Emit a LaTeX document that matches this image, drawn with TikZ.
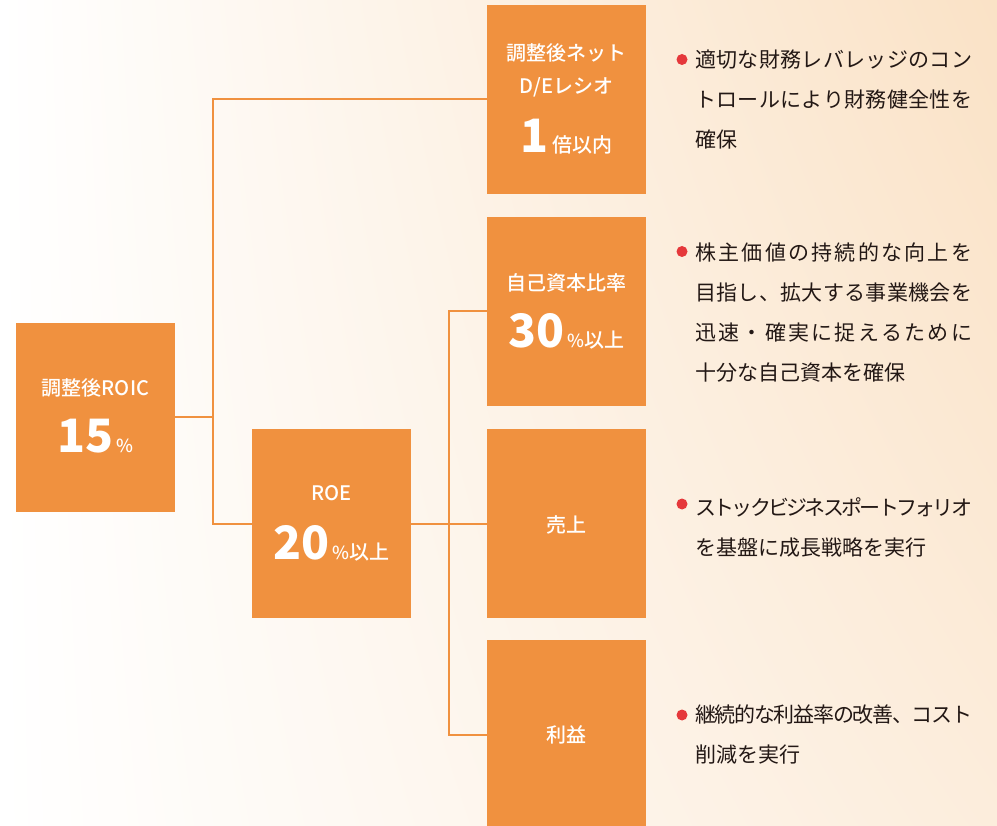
\documentclass[tikz,border=0pt]{standalone}
\usepackage{fontspec}
\usetikzlibrary{shadings}
\newfontfamily\jp{Noto Sans CJK JP}
\newfontfamily\jpm{Noto Sans CJK JP Medium}

\definecolor{goalorange}{HTML}{F0913F}
\definecolor{peachtop}{HTML}{FAE2C6}
\definecolor{peachlow}{HTML}{FCEDDC}
\definecolor{dotred}{HTML}{E5383B}
\definecolor{ink}{HTML}{231815}

% justified line of Japanese text
\newcommand\jline[1]{\hbox to 277pt{\jspread#1\relax}}
\def\jspread#1{#1\jnext}
\def\jnext#1{\ifx\relax#1\else\hskip 0pt plus 1fil minus 3pt\relax #1\expandafter\jnext\fi}
\newcommand\bignum[1]{{\jp\bfseries\fontsize{46}{46}\selectfont #1}}
\newcommand\pct{{\fontsize{18}{18}\selectfont\,\%}}

\begin{document}
\begin{tikzpicture}[x=1pt,y=-1pt,
  goal/.style={fill=goalorange,minimum width=159pt,minimum height=189pt,inner sep=0pt},
  head/.style={text=white,font=\jpm\fontsize{20}{24}\selectfont,inner sep=0pt},
  link/.style={draw=goalorange,line width=2pt},
  note/.style={text=ink,font=\jp\fontsize{21}{40}\selectfont,align=left,inner sep=0pt,anchor=north west},
  dot/.style={fill=dotred}]
  \useasboundingbox (0,0) rectangle (997,826);
  \shade[upper left=white,lower left=white,upper right=peachtop,lower right=peachlow] (0,0) rectangle (997,826);

  % connectors
  \draw[link] (175,417.5) -- ++(38,0) |- (487,99.5);
  \draw[link] (175,417.5) -- ++(38,0) |- (252,523.5);

  % boxes
  \node[goal] (roic) at (95.5,417.5) {};
  \node[goal] (roe) at (331.5,523.5) {};
  \node[goal] (de) at (566.5,99.5) {};
  \node[goal] (eq) at (566.5,311.5) {};
  \node[goal] (sales) at (566.5,523.5) {};
  \node[goal] (profit) at (566.5,734.5) {};

  \draw[link] (roe.east) -- ++(38,0) |- (eq.west);
  \draw[link] (roe.east) -- ++(38,0) |- (profit.west);
  \draw[link] (roe.east) -- (sales.west);

  % box texts
  \node[head] (roic-t) at (95.5,388) {調整後ROIC};
  \node[head] (roic-v) at (95.5,436) {\bignum{15}\pct};
  \node[head] (roe-t) at (331.5,493) {ROE};
  \node[head] (roe-v) at (331.5,543) {\bignum{20}\pct 以上};
  \node[head] (de-t) at (566.5,52.5) {調整後ネット};
  \node[head] (de-u) at (566.5,87.5) {D/Eレシオ};
  \node[head] (de-v) at (566.5,137) {\bignum{1}\,倍以内};
  \node[head] (eq-t) at (566.5,282.5) {自己資本比率};
  \node[head] (eq-v) at (566.5,331) {\bignum{30}\pct 以上};
  \node[head] (sales-t) at (566.5,524.5) {売上};
  \node[head] (profit-t) at (566.5,734.5) {利益};

  % notes
  \fill[dot] (682,59.5) circle (5.5);
  \node[note] (de-n) at (695,50) {\jline{適切な財務レバレッジのコン}\\\jline{トロールにより財務健全性を}\\確保};
  \fill[dot] (682,251.5) circle (5.5);
  \node[note] (eq-n) at (695,243) {\jline{株主価値の持続的な向上を}\\\jline{目指し、拡大する事業機会を}\\\jline{迅速・確実に捉えるために}\\十分な自己資本を確保};
  \fill[dot] (682,504) circle (5.5);
  \node[note] (sales-n) at (695,497) {\jline{ストックビジネスポートフォリオ}\\を基盤に成長戦略を実行};
  \fill[dot] (682,715) circle (5.5);
  \node[note] (profit-n) at (695,705) {\jline{継続的な利益率の改善、コスト}\\削減を実行};
\end{tikzpicture}
\end{document}
